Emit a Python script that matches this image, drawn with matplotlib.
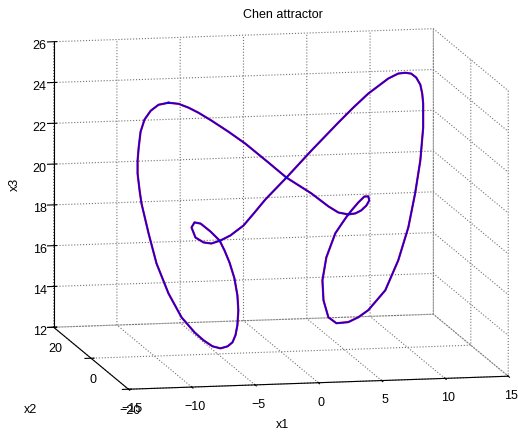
import numpy as np
import matplotlib
matplotlib.use("Agg")
import matplotlib.pyplot as plt
from mpl_toolkits.mplot3d import proj3d

plt.rcParams['font.family'] = ['Liberation Sans', 'DejaVu Sans']

# periodic orbit of the Chen system
x1 = [-10.42, -11.34, -12.08, -12.64, -13.01, -13.19, -13.29, -13.29, -13.10, -12.92,
      -12.27, -11.53, -10.42, -9.21, -8.01, -7.18, -6.34, -5.60, -4.95, -4.49,
      -4.21, -4.03, -3.94, -4.03, -4.31, -4.77, -5.23, -5.69, -6.53, -7.45,
      -8.01, -8.29, -7.92, -7.18, -6.44, -5.60, -4.68, -3.47, -2.45, -1.44,
      0.51, 2.82, 5.32, 6.71, 8.10, 9.95, 10.88, 11.53, 12.08, 12.55,
      12.92, 13.10, 13.19, 13.19, 12.92, 12.45, 11.81, 10.88, 9.68, 8.10,
      7.18, 6.25, 5.14, 4.40, 3.94, 3.84, 4.21, 5.05, 5.60, 6.06,
      6.53, 7.18, 7.73, 8.10, 8.19, 7.92, 7.45, 6.90, 6.25, 5.32,
      4.40, 2.82, 0.51, -1.16, -3.29, -4.86, -6.44, -7.64, -8.56, -9.49,
      -10.42]
x2 = [-10.4, -11.3, -12.1, -12.6, -13.0, -13.2, -13.3, -13.3, -13.1, -12.9,
      -12.3, -11.5, -10.4, -9.2, -8.0, -7.2, -6.3, -5.6, -5.0, -4.5,
      -4.2, -4.0, -3.9, -4.0, -4.3, -4.8, -5.2, -5.7, -6.5, -7.5,
      -8.0, -8.3, -7.9, -7.2, -6.4, -5.6, -4.7, -3.5, -2.5, -1.4,
      0.5, 2.8, 5.3, 6.7, 8.1, 10.0, 10.9, 11.5, 12.1, 12.6,
      12.9, 13.1, 13.2, 13.2, 12.9, 12.5, 11.8, 10.9, 9.7, 8.1,
      7.2, 6.3, 5.1, 4.4, 3.9, 3.8, 4.2, 5.1, 5.6, 6.1,
      6.5, 7.2, 7.7, 8.1, 8.2, 7.9, 7.5, 6.9, 6.3, 5.3,
      4.4, 2.8, 0.5, -1.2, -3.3, -4.9, -6.4, -7.6, -8.6, -9.5,
      -10.4]
x3 = [25.22, 25.21, 24.99, 24.61, 24.05, 23.29, 22.66, 22.03, 21.17, 20.52,
      18.99, 17.45, 15.87, 14.58, 13.73, 13.26, 12.88, 12.71, 12.75, 12.90,
      13.22, 13.69, 14.41, 15.16, 16.02, 16.84, 17.48, 18.01, 18.53, 19.01,
      19.12, 18.90, 18.37, 18.06, 17.93, 18.00, 18.16, 18.53, 19.07, 19.60,
      20.49, 21.59, 22.72, 23.32, 23.87, 24.42, 24.58, 24.56, 24.46, 24.22,
      23.84, 23.38, 22.88, 21.71, 20.12, 18.55, 16.95, 15.42, 14.07, 13.25,
      12.99, 12.84, 12.90, 13.26, 14.14, 15.13, 16.22, 17.31, 17.70, 18.00,
      18.29, 18.62, 18.86, 18.83, 18.62, 18.40, 18.20, 18.11, 18.12, 18.31,
      18.70, 19.49, 20.49, 21.39, 22.52, 23.26, 23.96, 24.46, 24.80, 25.08,
      25.22]

x1_ticks = [-15, -10, -5, 0, 5, 10, 15]
x2_ticks = [-20, 0, 20]
x3_ticks = [12, 14, 16, 18, 20, 22, 24, 26]

fig = plt.figure(figsize=(5.18, 4.34), dpi=100)
ax = fig.add_axes([0.031, 0.005, 1.0, 1.0], projection='3d', proj_type='ortho')
ax.view_init(elev=9.7, azim=-101.5)
ax.set_box_aspect((388, 376, 290), zoom=1.37)

ax.plot(x1, x2, x3, color='red', lw=1.6)
ax.plot(x1, x2, x3, color='blue', lw=1.1)

ax.set_xlim(-15, 15)
ax.set_ylim(-20, 20)
ax.set_zlim(12, 26)
ax.set_xticks(x1_ticks)
ax.set_yticks(x2_ticks)
ax.set_zticks(x3_ticks)
ax.yaxis.set_major_formatter(plt.NullFormatter())
ax.tick_params(labelsize=9)
ax.tick_params(axis='x', pad=-1.5)
ax.tick_params(axis='z', pad=-3)

for axis in (ax.xaxis, ax.yaxis, ax.zaxis):
    axis.pane.fill = False
    axis.pane.set_edgecolor((1, 1, 1, 0))
    axis._axinfo['grid'].update(color='0.45', linestyle=':', linewidth=0.8)
    axis.line.set_color('black')

# x2 tick labels sit straight under the axis, as in MATLAB
fig.canvas.draw()
to_fig = fig.transFigure.inverted()
for v in x2_ticks:
    px, py, _ = proj3d.proj_transform(-15, v, 12, ax.get_proj())
    dx, dy = ax.transData.transform((px, py))
    fx, fy = to_fig.transform((dx + 2, dy - 22))
    fig.text(fx, fy, str(v).replace('-', '\u2212'), fontsize=9,
             ha='center', va='center')

# labels placed like the MATLAB figure
fig.text(0.546, 0.965, 'Chen attractor', fontsize=9, ha='center', va='center')
fig.text(0.546, 0.021, 'x1', fontsize=9, ha='center', va='center')
fig.text(0.058, 0.055, 'x2', fontsize=9, ha='center', va='center')
fig.text(0.029, 0.574, 'x3', fontsize=9, ha='center', va='center', rotation=90)

fig.savefig('out.png', dpi=100)
